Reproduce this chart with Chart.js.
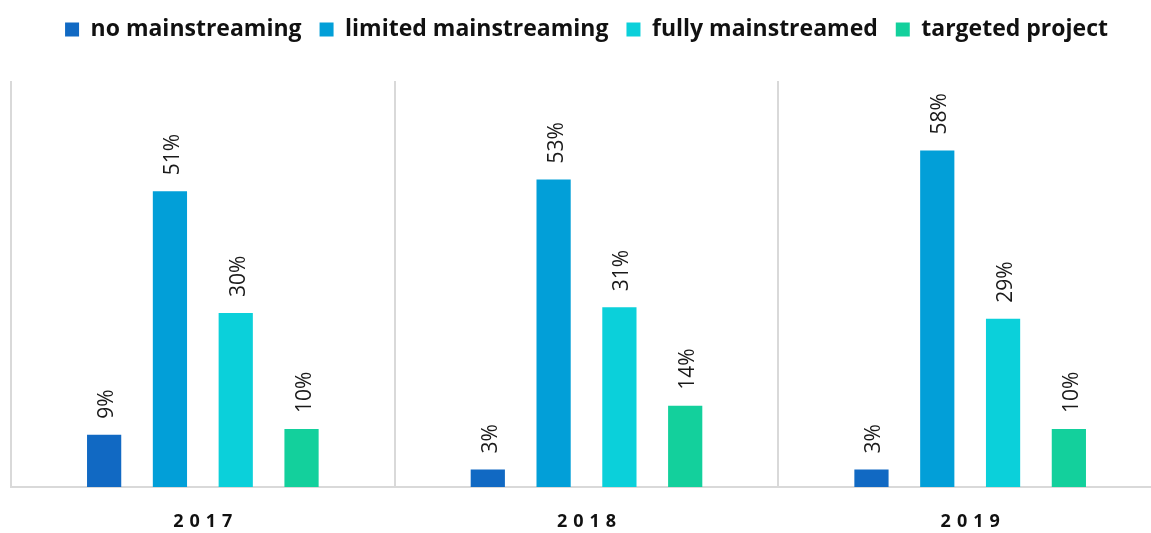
<!DOCTYPE html>
<html>
<head>
<meta charset="utf-8">
<script src="https://cdn.jsdelivr.net/npm/chart.js@4/dist/chart.umd.min.js"></script>
<style>
  html, body { margin: 0; padding: 0; background: #fff; overflow: hidden; }
  #wrap { position: relative; width: 1173px; height: 533px; }
</style>
</head>
<body>
<div id="wrap"><canvas id="ctx-bars"></canvas></div>
<script>
const years = ['2017', '2018', '2019'];
const seriesNames = ['no mainstreaming', 'limited mainstreaming', 'fully mainstreamed', 'targeted project'];
const noMainstreaming = [9, 3, 3];
const limitedMainstreaming = [51, 53, 58];
const fullyMainstreamed = [30, 31, 29];
const targetedProject = [10, 14, 10];
const colors = ['#1169c3', '#029fd8', '#0bd0da', '#13d09c'];

const values = [noMainstreaming, limitedMainstreaming, fullyMainstreamed, targetedProject];

// value labels, rotated, sitting just above each bar
const barLabels = {
  id: 'barLabels',
  afterDatasetsDraw(chart) {
    const { ctx } = chart;
    ctx.save();
    ctx.fillStyle = '#1a1a1a';
    ctx.font = '21px "Open Sans", sans-serif';
    ctx.textAlign = 'left';
    ctx.textBaseline = 'middle';
    chart.data.datasets.forEach((ds, i) => {
      chart.getDatasetMeta(i).data.forEach((bar, j) => {
        ctx.save();
        ctx.translate(bar.x + 3, bar.y - 16);
        ctx.rotate(-Math.PI / 2);
        ctx.fillText(`${ds.data[j]}%`, 0, 0);
        ctx.restore();
      });
    });
    ctx.restore();
  },
};

// keep a fixed band between the legend and the plot
const legendSpace = {
  id: 'legendSpace',
  beforeInit(chart) {
    const fit = chart.legend.fit;
    chart.legend.fit = function () {
      fit.call(this);
      this.height = 81;
    };
  },
};

new Chart(document.getElementById('ctx-bars').getContext('2d'), {
  type: 'bar',
  data: {
    labels: years,
    datasets: seriesNames.map((name, i) => ({
      label: name,
      data: values[i],
      backgroundColor: colors[i],
      categoryPercentage: 0.686,
      barPercentage: 0.52,
    })),
  },
  options: {
    responsive: true,
    maintainAspectRatio: false,
    animation: false,
    layout: { padding: { left: 11, right: 11, top: 0, bottom: 0 } },
    plugins: {
      tooltip: { enabled: false },
      legend: {
        display: true,
        position: 'top',
        labels: {
          boxWidth: 14,
          boxHeight: 14,
          padding: 18,
          color: '#111',
          font: { family: '"Open Sans", sans-serif', size: 23, weight: 'bold' },
        },
      },
    },
    scales: {
      x: {
        grid: { color: '#d9d9d9', lineWidth: 2, drawTicks: false, offset: true },
        border: { color: '#d9d9d9', width: 2 },
        ticks: {
          padding: 24,
          color: '#111',
          font: { family: '"Open Sans", sans-serif', size: 18, weight: 'bold' },
          callback(value) {
            return this.getLabelForValue(value).split('').join('\u2009\u2009');
          },
        },
        afterFit(scale) {
          scale.height = 46;
        },
      },
      y: { display: false, min: 0, max: 70 },
    },
  },
  plugins: [barLabels, legendSpace],
});
</script>
</body>
</html>
